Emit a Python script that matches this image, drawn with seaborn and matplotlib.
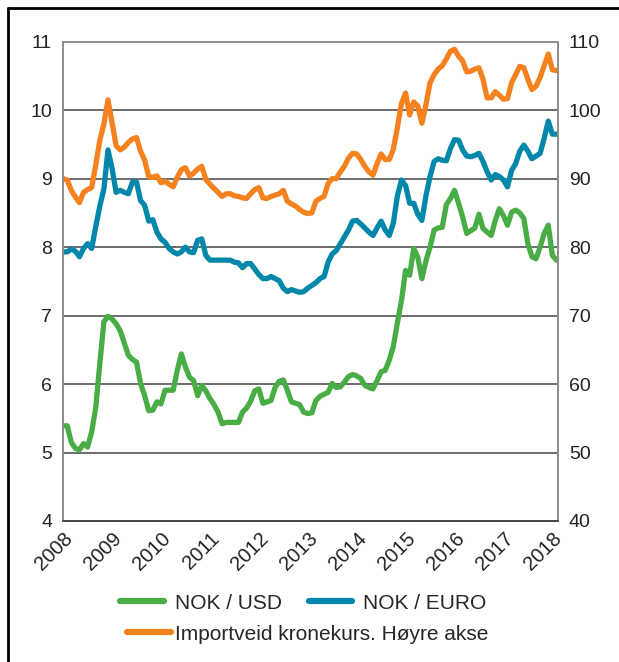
import numpy as np
import pandas as pd
import seaborn as sns
import matplotlib.pyplot as plt
from matplotlib.lines import Line2D

# monthly data, Jan 2008 - Feb 2018
start_year = 2008
years = list(range(2008, 2019))

nok_usd = [5.39, 5.39, 5.15, 5.06, 5.04, 5.13, 5.08, 5.30, 5.66, 6.30, 6.91, 6.99,
           6.95, 6.88, 6.78, 6.60, 6.42, 6.36, 6.32, 6.01, 5.83, 5.61, 5.62, 5.74,
           5.71, 5.91, 5.91, 5.91, 6.20, 6.44, 6.25, 6.10, 6.05, 5.83, 5.98, 5.90,
           5.79, 5.70, 5.59, 5.42, 5.44, 5.44, 5.44, 5.44, 5.59, 5.65, 5.75, 5.90,
           5.93, 5.72, 5.74, 5.76, 5.95, 6.04, 6.06, 5.91, 5.74, 5.72, 5.70, 5.59,
           5.57, 5.58, 5.76, 5.82, 5.85, 5.88, 6.01, 5.95, 5.96, 6.03, 6.11, 6.14,
           6.12, 6.08, 5.98, 5.95, 5.93, 6.05, 6.18, 6.20, 6.35, 6.55, 6.90, 7.22,
           7.66, 7.59, 7.98, 7.85, 7.54, 7.80, 8.00, 8.25, 8.28, 8.29, 8.62, 8.71,
           8.83, 8.64, 8.44, 8.20, 8.24, 8.28, 8.48, 8.27, 8.22, 8.17, 8.39, 8.56,
           8.46, 8.32, 8.51, 8.54, 8.50, 8.42, 8.05, 7.86, 7.83, 8.00, 8.20, 8.32,
           7.88, 7.81]

nok_eur = [7.93, 7.93, 7.97, 7.94, 7.86, 7.98, 8.05, 7.98, 8.30, 8.60, 8.85, 9.42,
           9.15, 8.80, 8.83, 8.80, 8.78, 8.95, 8.95, 8.68, 8.61, 8.38, 8.40, 8.22,
           8.12, 8.07, 7.98, 7.93, 7.90, 7.93, 8.00, 7.93, 7.92, 8.10, 8.12, 7.88,
           7.81, 7.81, 7.81, 7.81, 7.81, 7.81, 7.78, 7.77, 7.70, 7.76, 7.76, 7.68,
           7.60, 7.54, 7.54, 7.57, 7.54, 7.51, 7.40, 7.35, 7.38, 7.36, 7.34, 7.35,
           7.40, 7.44, 7.48, 7.54, 7.57, 7.78, 7.90, 7.95, 8.05, 8.15, 8.25, 8.38,
           8.39, 8.34, 8.28, 8.22, 8.17, 8.28, 8.38, 8.25, 8.17, 8.35, 8.75, 8.98,
           8.90, 8.64, 8.64, 8.48, 8.39, 8.75, 9.03, 9.25, 9.29, 9.27, 9.26, 9.44,
           9.57, 9.56, 9.42, 9.33, 9.32, 9.34, 9.37, 9.25, 9.10, 8.98, 9.06, 9.03,
           8.98, 8.88, 9.12, 9.22, 9.40, 9.49, 9.40, 9.29, 9.33, 9.37, 9.59, 9.84,
           9.65, 9.65]

import_weighted = [90.0, 89.8, 88.3, 87.3, 86.5, 88.0, 88.4, 88.7, 92.0, 95.6, 98.0, 101.5,
                   98.2, 94.8, 94.2, 94.6, 95.3, 95.8, 96.0, 94.0, 92.7, 90.3, 90.2, 90.4,
                   89.4, 89.6, 89.2, 88.8, 90.2, 91.3, 91.6, 90.4, 90.8, 91.4, 91.8, 89.9,
                   89.2, 88.6, 88.0, 87.4, 87.8, 87.8, 87.5, 87.4, 87.2, 87.1, 87.8, 88.4,
                   88.7, 87.2, 87.1, 87.4, 87.6, 87.8, 88.3, 86.7, 86.3, 86.0, 85.5, 85.1,
                   84.9, 85.0, 86.7, 87.1, 87.4, 89.3, 90.0, 90.0, 91.0, 91.8, 93.0, 93.7,
                   93.6, 92.8, 91.8, 91.0, 90.5, 92.2, 93.6, 92.8, 92.8, 94.3, 97.5, 101.0,
                   102.5, 99.3, 101.2, 100.6, 98.1, 100.8, 104.0, 105.2, 106.0, 106.5, 107.5, 108.6,
                   108.9, 107.9, 107.2, 105.6, 105.7, 106.0, 106.2, 104.5, 101.8, 101.8, 102.7, 102.2,
                   101.6, 101.7, 104.0, 105.2, 106.4, 106.2, 104.5, 103.0, 103.5, 104.8, 106.5, 108.2,
                   105.9, 105.8]

labels = ['NOK / USD', 'NOK / EURO', 'Importveid kronekurs. Høyre akse']
colors = ['#48ad45', '#0087a9', '#f5821f']

t = start_year + np.arange(len(nok_usd)) / 12.0
df = pd.DataFrame({'t': t, 'usd': nok_usd, 'eur': nok_eur, 'imp': import_weighted})

sns.set_theme(style='white')
plt.rcParams['font.family'] = ['Liberation Sans', 'DejaVu Sans']

fig = plt.figure(figsize=(6.19, 6.62), dpi=100)
ax = fig.add_axes([0.102, 0.213, 0.799, 0.724])
ax2 = ax.twinx()

lw = 3.8
sns.lineplot(data=df, x='t', y='usd', ax=ax, color=colors[0], lw=lw)
sns.lineplot(data=df, x='t', y='eur', ax=ax, color=colors[1], lw=lw)
sns.lineplot(data=df, x='t', y='imp', ax=ax2, color=colors[2], lw=lw)

ax.set_xlim(2008, 2018.11)
ax.set_ylim(4, 11)
ax2.set_ylim(40, 110)
ax.set_xticks(years)
ax.set_xticklabels([str(y) for y in years], rotation=45, ha='right',
                   rotation_mode='anchor', fontsize=14.5)
ax.set_yticks(range(4, 12))
ax2.set_yticks(range(40, 111, 10))
ax.tick_params(axis='y', labelsize=14, length=0, pad=8, colors='#222222')
ax2.tick_params(axis='y', labelsize=14, length=0, pad=8, colors='#222222')
ax.tick_params(axis='x', direction='in', length=6, width=1, color='#444444',
               labelcolor='#222222', pad=6)
for a in (ax, ax2):
    a.set_xlabel('')
    a.set_ylabel('')
for y in range(5, 11):
    ax.axhline(y, color='#444444', lw=1.1, zorder=0)
for a in (ax, ax2):
    for side in ('top', 'left', 'right'):
        a.spines[side].set_color('#8c8c8c')
        a.spines[side].set_linewidth(1.2)
    a.spines['bottom'].set_color('#444444')
    a.spines['bottom'].set_linewidth(1.2)

h = [Line2D([], [], color=c, lw=4.5, solid_capstyle='round') for c in colors]
leg1 = fig.legend(h[:2], labels[:2], ncol=2, loc='center', bbox_to_anchor=(0.49, 0.089),
                  frameon=False, fontsize=15, handlelength=2.1, handletextpad=0.5,
                  columnspacing=1.3)
leg2 = fig.legend(h[2:], labels[2:], loc='center', bbox_to_anchor=(0.497, 0.042),
                  frameon=False, fontsize=15, handlelength=2.1, handletextpad=0.2)

# frame lines at left and top of figure
fig.add_artist(Line2D([0.013, 0.013], [0, 0.988], color='black', lw=2, transform=fig.transFigure))
fig.add_artist(Line2D([0.013, 1.0], [0.988, 0.988], color='black', lw=2, transform=fig.transFigure))

fig.savefig('out.png', dpi=100)
